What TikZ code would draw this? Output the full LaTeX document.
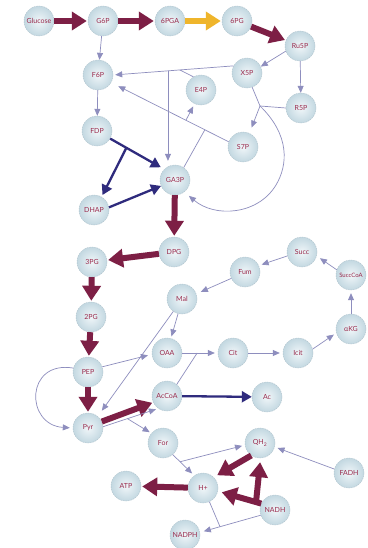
\documentclass[tikz,border=0pt]{standalone}
\usepackage{fontspec}
\setmainfont{Lato}
\usetikzlibrary{arrows.meta,calc}
\definecolor{maroon}{HTML}{7D1F45}
\definecolor{gold}{HTML}{EFB52B}
\definecolor{navy}{HTML}{2F2B7D}
\definecolor{lav}{HTML}{8E8EBE}
\definecolor{txt}{HTML}{9A2A4C}
\definecolor{cin}{HTML}{F0F6F9}
\definecolor{cout}{HTML}{C3D8E1}
\definecolor{cbd}{HTML}{AFC2CC}
\begin{document}
\begin{tikzpicture}[x=1pt,y=-1pt,
  met/.style={circle, minimum size=30pt, inner sep=0pt, inner color=cin, outer color=cout,
    draw=cbd, line width=0.4pt, dash pattern=on 1.5pt off 1pt,
    font=\fontsize{7}{8}\selectfont, text=txt},
  tk/.style={draw=maroon, line width=6pt, -{Triangle[width=18pt,length=15pt]}, shorten >=1pt},
  tky/.style={tk, draw=gold},
  nv/.style={draw=navy, line width=2.3pt, -{Triangle[width=11pt,length=10pt]}},
  tn/.style={draw=lav, line width=0.7pt, -{Triangle[width=6pt,length=7pt]}},
  tl/.style={draw=lav, line width=0.7pt}
]
\fill[white] (0,0) rectangle (367,548);
\useasboundingbox (0,0) rectangle (367,548);

% nodes
\node[met] (glc)   at (39,21)   {Glucose};
\node[met] (g6p)   at (103,21)  {G6P};
\node[met] (pga6)  at (170,21)  {6PGA};
\node[met] (pg6)   at (237,21)  {6PG};
\node[met] (ru5p)  at (300,46)  {Ru5P};
\node[met] (f6p)   at (98,75)   {F6P};
\node[met] (x5p)   at (247,73)  {X5P};
\node[met] (e4p)   at (201,90)  {E4P};
\node[met] (r5p)   at (301,108) {R5P};
\node[met] (fdp)   at (97,131)  {FDP};
\node[met] (s7p)   at (243,147) {S7P};
\node[met] (ga3p)  at (175,180) {GA3P};
\node[met] (dhap)  at (94,210)  {DHAP};
\node[met] (dpg)   at (174,252) {DPG};
\node[met] (pg3)   at (92,262)  {3PG};
\node[met] (succ)  at (302,252) {Succ};
\node[met] (fum)   at (245,272) {Fum};
\node[met, font=\fontsize{6}{7}\selectfont] (succoa) at (351,275) {SuccCoA};
\node[met] (mal)   at (182,299) {Mal};
\node[met] (pg2)   at (91,317)  {2PG};
\node[met] (akg)   at (351,329) {αKG};
\node[met] (oaa)   at (167,353) {OAA};
\node[met] (cit)   at (233,353) {Cit};
\node[met] (icit)  at (298,353) {Icit};
\node[met] (pep)   at (88,372)  {PEP};
\node[met] (accoa) at (167,396) {AcCoA};
\node[met] (ac)    at (267,397) {Ac};
\node[met] (pyr)   at (88,428)  {Pyr};
\node[met] (form)  at (163,443) {For};
\node[met] (qh2)   at (260,443) {QH\textsubscript{2}};
\node[met] (fadh)  at (349,473) {FADH};
\node[met] (atp)   at (126,486) {ATP};
\node[met] (hp)    at (203,488) {H+};
\node[met] (nadh)  at (275,510) {NADH};
\node[met] (nadph) at (185,535) {NADPH};

% thick maroon / gold
\draw[tk] (glc) -- (g6p);
\draw[tk] (g6p) -- (pga6);
\draw[tky] (pga6) -- (pg6);
\draw[tk] (pg6) -- (ru5p);
\draw[tk] (ga3p) -- (dpg);
\draw[tk] (dpg) -- (pg3);
\draw[tk] (pg3) -- (pg2);
\draw[tk] (pg2) -- (pep);
\draw[tk] (pep) -- (pyr);
\draw[tk] (pyr.25) -- (accoa.205);
\draw[tk, shorten >=4pt] (qh2.235) -- (hp.45);
\draw[tk, shorten >=4pt] (nadh.155) -- coordinate[pos=0.12] (jnad) (hp.-12);
\draw[tk, shorten >=4pt] (jnad) -- (qh2.272);
\draw[tk] (hp) -- (atp);

% navy
\draw[nv, shorten >=4pt] (fdp.-30) -- coordinate[pos=0.3] (jfd) (ga3p.135);
\draw[nv, shorten >=2pt] (jfd) -- (dhap.60);
\draw[nv] (dhap.10) -- (ga3p.203);
\draw[nv] (accoa) -- (ac);

% thin: upper part
\draw[tn] (g6p) -- (f6p);
\draw[tn] (f6p) -- (fdp);
\draw[tn] (ru5p.200) -- (x5p.25);
\draw[tn] (ru5p) -- (r5p);
\draw[tn, shorten >=2pt] (x5p.152) -- coordinate[pos=0.446] (jke) coordinate[pos=0.545] (jkg) (f6p.0);
\draw[tl] (e4p.120) -- (jke);
\draw[tn, shorten >=4pt] (jkg) -- (jkg |- ga3p.north);
\draw[tn, shorten >=8pt] (s7p.160) -- coordinate[pos=0.364] (jte) coordinate[pos=0.203] (jtg) (f6p.-30);
\draw[tn, shorten >=3pt] (jte) -- (e4p.245);
\draw[tl] (ga3p.55) -- (jtg);
\coordinate (jk2) at (260,106);
\draw[tl] (x5p.-70) -- (jk2);
\draw[tl] (r5p.180) -- (jk2);
\draw[tn, shorten >=6pt] (jk2) -- (s7p.65);
\draw[tn, shorten >=6pt] (jk2) .. controls (290,135) and (288,165) .. (276,185)
   .. controls (258,215) and (215,218) .. (ga3p.-52);

% thin: TCA and lower part
\draw[tn, shorten >=4pt] (pep.20) -- (oaa.185);
\draw[tn, shorten >=7pt] (mal.235) -- (pyr.50);
\draw[tn, shorten >=3pt] (pep.165) .. controls (25,360) and (25,425) .. (pyr.180);
\draw[tn, shorten >=2.5pt] (pyr.5) -- coordinate[pos=0.44] (jpf) (accoa.235);
\draw[tn, shorten >=2pt] (jpf) -- (form.140);
\draw[tn, shorten >=2pt] (mal.255) -- (oaa.75);
\draw[tn, shorten >=5pt] (fum.205) -- (mal.20);
\draw[tn, shorten >=3pt] (succ.195) -- (fum.25);
\draw[tn, shorten >=4pt] (succoa.160) -- (succ.-15);
\draw[tn, shorten >=3pt] (akg) -- (succoa);
\draw[tn, shorten >=3pt] (icit.15) -- (akg.195);
\draw[tn, shorten >=3pt] (cit) -- (icit);
\draw[tn, shorten >=3pt] (oaa) -- coordinate[pos=0.42] (jcs) (cit);
\draw[tl] (accoa.50) -- (jcs);
\draw[tn, shorten >=3pt] (form.-50) -- coordinate[pos=0.34] (jfo) (hp.125);
\draw[tn, shorten >=3pt] (jfo) -- (qh2.188);
\draw[tn, shorten >=3pt] (fadh.165) -- (qh2.-15);
\draw[tn, shorten >=4pt] (nadh.200) -- coordinate[pos=0.67] (jth) (nadph.10);
\draw[tl] (hp.-65) -- (jth);
\end{tikzpicture}
\end{document}
